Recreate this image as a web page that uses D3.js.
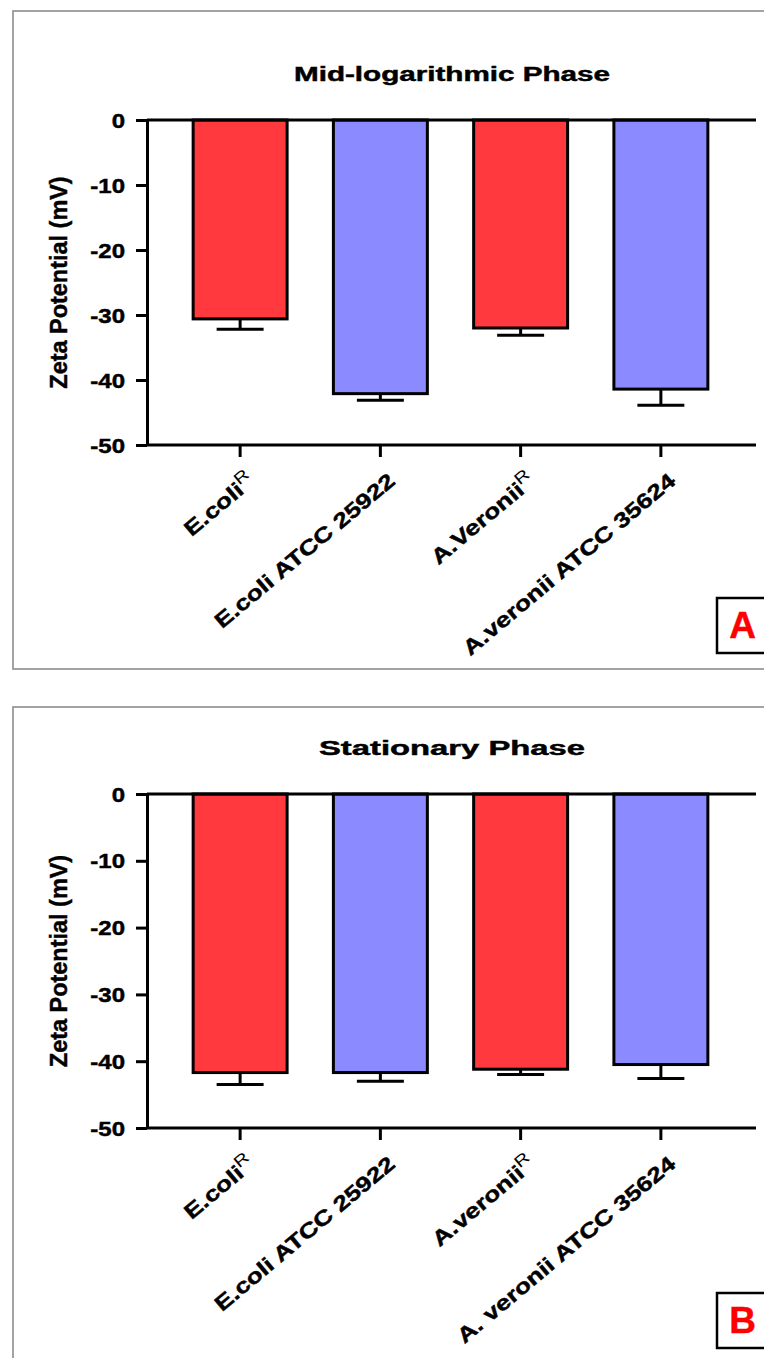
<!DOCTYPE html>
<html lang="en">
<head>
<meta charset="utf-8">
<title>Zeta potential, mid-log and stationary phase</title>
<script src="https://d3js.org/d3.v7.min.js"></script>
<style>
body { margin: 0; background: #fff; }
svg text { font-family: "Liberation Sans", Arial, sans-serif; font-weight: bold; fill: #000; stroke: #000; stroke-width: 0.45px; }
.frame { fill: none; stroke: #8c8c8c; stroke-width: 1.6px; }
.axis path, .axis line { stroke: #000; stroke-width: 3px; }
.bar { stroke: #000; stroke-width: 3px; }
.err { stroke: #000; stroke-width: 3px; }
</style>
</head>
<body>
<script>

// panel A: mid-logarithmic phase
var labelsA = ["E.coli", "E.coli ATCC 25922", "A.Veronii", "A.veronii ATCC 35624"];
var supA = ["R", "", "R", ""];
var meansA = [-30.6, -42.1, -32.0, -41.4];
var errA = [1.6, 1.0, 1.1, 2.5];

// panel B: stationary phase
var labelsB = ["E.coli", "E.coli ATCC 25922", "A.veronii", "A. veronii ATCC 35624"];
var supB = ["R", "", "R", ""];
var meansB = [-41.7, -41.7, -41.2, -40.5];
var errB = [1.8, 1.3, 0.8, 2.1];

var barColors = ["#ff393d", "#8b8bff", "#ff393d", "#8b8bff"];
var yTicks = [0, -10, -20, -30, -40, -50];

var W = 764, H = 1358;

var svg = d3.select("body").append("svg")
    .attr("width", W)
    .attr("height", H);

function panel(o) {
  var g = svg.append("g");

  g.append("rect")
      .attr("class", "frame")
      .attr("x", 13)
      .attr("y", o.top)
      .attr("width", 800)
      .attr("height", o.height);

  var x = d3.scaleBand()
      .domain(d3.range(o.labels.length))
      .range([170, 731])
      .paddingInner(0.33)
      .paddingOuter(0.165);

  var y = d3.scaleLinear()
      .domain([-50, 0])
      .range([o.y50, o.y0]);

  // title
  g.append("text")
      .attr("x", 452)
      .attr("y", y(0) - 39)
      .attr("text-anchor", "middle")
      .attr("textLength", o.titleLen)
      .attr("lengthAdjust", "spacingAndGlyphs")
      .style("font-size", "20px")
      .text(o.title);

  // bars
  g.selectAll(".bar")
      .data(o.means)
    .enter().append("rect")
      .attr("class", "bar")
      .attr("x", function(d, i) { return x(i); })
      .attr("y", y(0))
      .attr("width", x.bandwidth())
      .attr("height", function(d) { return y(d) - y(0); })
      .attr("fill", function(d, i) { return barColors[i]; });

  // error bars, downward only
  var cap = x.bandwidth() / 4;
  o.means.forEach(function(m, i) {
    var cx = x(i) + x.bandwidth() / 2;
    g.append("line").attr("class", "err")
        .attr("x1", cx).attr("x2", cx)
        .attr("y1", y(m)).attr("y2", y(m - o.err[i]));
    g.append("line").attr("class", "err")
        .attr("x1", cx - cap).attr("x2", cx + cap)
        .attr("y1", y(m - o.err[i])).attr("y2", y(m - o.err[i]));
  });

  // horizontal lines at 0 and -50
  [0, -50].forEach(function(v) {
    g.append("line")
        .attr("x1", 147).attr("x2", 756)
        .attr("y1", y(v)).attr("y2", y(v))
        .attr("stroke", "#000").attr("stroke-width", 3);
  });

  // y axis
  var ya = g.append("g")
      .attr("class", "axis")
      .attr("transform", "translate(147,0)")
      .call(d3.axisLeft(y).tickValues(yTicks).tickSize(11).tickSizeOuter(0)
        .tickFormat(function(d) { return String(d); }));
  ya.selectAll("text")
      .attr("x", null)
      .attr("dy", null)
      .attr("transform", "translate(-22,7) scale(1.2,1)")
      .style("font-size", "20px")
      .style("font-family", null);

  g.append("text")
      .attr("transform", "translate(67," + ((y(0) + y(-50)) / 2) + ") rotate(-90) scale(1.02,1)")
      .attr("text-anchor", "middle")
      .style("font-size", "23px")
      .text("Zeta Potential (mV)");

  // x axis ticks
  var xa = g.append("g")
      .attr("class", "axis")
      .attr("transform", "translate(0," + y(-50) + ")")
      .call(d3.axisBottom(x).tickSize(12).tickFormat(""));
  xa.select(".domain").remove();

  o.labels.forEach(function(lab, i) {
    var cx = x(i) + x.bandwidth() / 2;
    var t = g.append("text")
        .attr("transform", "translate(" + (cx + 16) + "," + (y(-50) + 38) + ") rotate(-40) scale(1.25,1)")
        .attr("text-anchor", "end")
        .style("font-size", "21px");
    t.append("tspan").text(lab);
    if (o.sup[i]) {
      t.append("tspan")
          .attr("dy", "-9")
          .style("font-size", "16px")
          .style("font-weight", "normal")
          .style("stroke-width", "0")
          .text(o.sup[i]);
    }
  });

  // panel letter
  g.append("rect")
      .attr("x", 717).attr("y", o.letterY)
      .attr("width", 60).attr("height", 55)
      .attr("fill", "#fff")
      .attr("stroke", "#000").attr("stroke-width", 2.5);
  g.append("text")
      .attr("x", 742.5).attr("y", o.letterY + 40)
      .attr("text-anchor", "middle")
      .style("font-size", "37px")
      .style("fill", "#ff0000")
      .style("stroke", "#ff0000")
      .text(o.letter);
}

panel({ top: 11, height: 658, y0: 120, y50: 445, title: "Mid-logarithmic Phase", titleLen: 316,
        labels: labelsA, sup: supA, means: meansA, err: errA, letter: "A", letterY: 598 });
panel({ top: 707, height: 700, y0: 794, y50: 1128, title: "Stationary Phase", titleLen: 266,
        labels: labelsB, sup: supB, means: meansB, err: errB, letter: "B", letterY: 1293 });

</script>
</body>
</html>
